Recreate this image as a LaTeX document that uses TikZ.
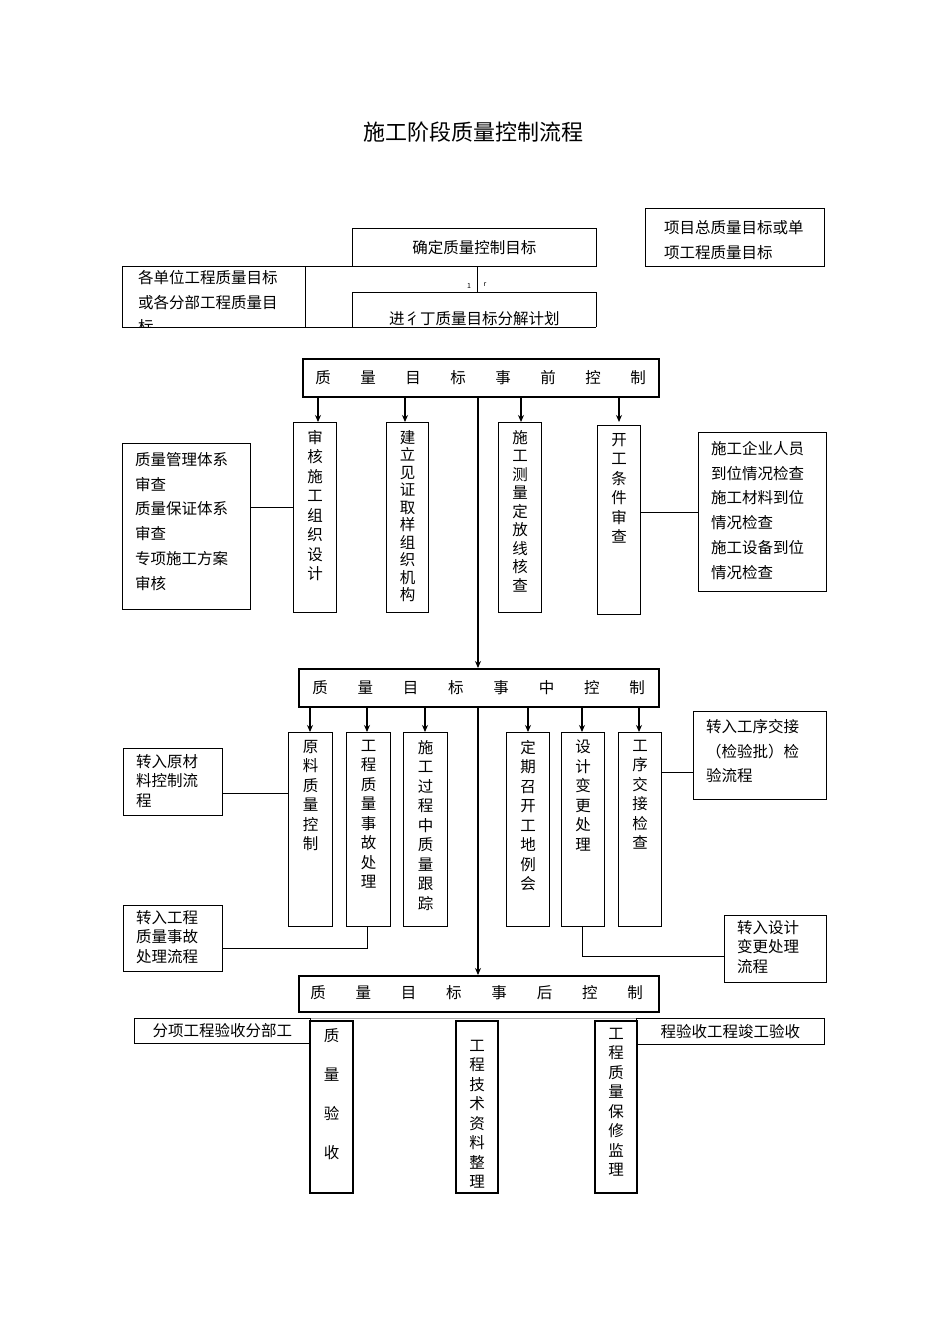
\documentclass[tikz,border=0pt]{standalone}
\usepackage{fontspec}
\usetikzlibrary{arrows.meta}
\setmainfont{Noto Sans CJK SC}
\begin{document}
\begin{tikzpicture}[x=1pt,y=-1pt,
  box/.style={draw,line width=1.1pt,anchor=north west,inner sep=0pt},
  thk/.style={draw,line width=2.2pt,anchor=north west,inner sep=0pt},
  thin/.style={draw,line width=0.6pt,anchor=north west,inner sep=0pt},
  txt/.style={font=\fontsize{15.5}{24.8}\selectfont,align=left,inner sep=0pt},
  vt/.style={font=\fontsize{15.5}{19.5}\selectfont,align=center,inner sep=0pt,anchor=north},
  ln/.style={line width=0.9pt},
  arr/.style={line width=1.1pt,-{Stealth[length=7pt,width=6pt]}}]
\useasboundingbox (0,0) rectangle (950,1344);
\newcommand\bx[6]{\node[#6,minimum width=#4pt,minimum height=#5pt] (#1) at (#2,#3) {};}
% title
\node[font=\fontsize{22}{26}\selectfont] (title) at (473,132) {施工阶段质量控制流程};
% top
\bx{tA}{352}{228}{244}{38}{thin}
\node[txt] at (tA.center) {确定质量控制目标};
\bx{tB}{122}{266}{183}{61}{thin}
\node[txt,anchor=north west] at (138,270) {各单位工程质量目标\\或各分部工程质量目\\标};
\fill[white] (121,327.4) rectangle (306,345);
\bx{tC}{352}{292}{244}{35}{thin}
\node[txt] at ([yshift=-9]tC.center) {进彳丁质量目标分解计划};
\fill[white] (351,327.4) rectangle (597,345);
\draw[line width=0.6pt] (122,327) -- (596,327);
\draw[line width=0.6pt] (305,266) -- (352,266);
\draw[line width=0.6pt] (477,266) -- (477,292);
\node[font=\fontsize{7}{8}\selectfont] (s1) at (469,286) {1};
\node[font=\fontsize{7}{8}\selectfont] (s2) at (485,285) {r};
\bx{tD}{645}{208}{179}{58}{thin}
\node[txt,anchor=north west] at (664,220) {项目总质量目标或单\\项工程质量目标};
% stage 1
\bx{b1}{302}{358}{356}{38}{thk}
\foreach \c [count=\i from 0] in {质,量,目,标,事,前,控,制}
  \node[font=\fontsize{15.5}{18}\selectfont] at (323+45*\i,378) {\c};
\bx{v1}{293}{422}{43}{190}{box}
\node[vt] at ([yshift=-8]v1.north) {审\\核\\施\\工\\组\\织\\设\\计};
\bx{v2}{386}{422}{42}{190}{box}
\node[vt] at ([yshift=-8]v2.north) {建\\[-2pt]立\\[-2pt]见\\[-2pt]证\\[-2pt]取\\[-2pt]样\\[-2pt]组\\[-2pt]织\\[-2pt]机\\[-2pt]构};
\bx{v3}{498}{422}{43}{190}{box}
\node[vt] at ([yshift=-8]v3.north) {施\\[-1pt]工\\[-1pt]测\\[-1pt]量\\[-1pt]定\\[-1pt]放\\[-1pt]线\\[-1pt]核\\[-1pt]查};
\bx{v4}{597}{425}{43}{189}{box}
\node[vt] at ([yshift=-8]v4.north) {开\\工\\条\\件\\审\\查};
\foreach \n/\x in {v1/318,v2/405,v3/521,v4/619}
  \draw[arr] (\x,396) -- (\x,422);
\bx{L1}{122}{443}{128}{166}{box}
\node[txt,anchor=north west] at (135,452) {质量管理体系\\审查\\质量保证体系\\审查\\专项施工方案\\审核};
\draw[ln] (L1.east|-0,507) -- (v1.west|-0,507);
\bx{R1}{698}{432}{128}{159}{box}
\node[txt,anchor=north west] at (711,441) {施工企业人员\\到位情况检查\\施工材料到位\\情况检查\\施工设备到位\\情况检查};
\draw[ln] (v4.east|-0,512) -- (R1.west|-0,512);
% stage 2
\bx{b2}{298}{668}{360}{38}{thk}
\draw[arr] (478,396) -- (b2.north-|478,0);
\foreach \c [count=\i from 0] in {质,量,目,标,事,中,控,制}
  \node[font=\fontsize{15.5}{18}\selectfont] at (320+45.3*\i,688) {\c};
\bx{w1}{288}{732}{44}{194}{box}
\node[vt] at ([yshift=-8]w1.north) {原\\料\\质\\量\\控\\制};
\bx{w2}{346}{732}{44}{194}{box}
\node[vt] at ([yshift=-8]w2.north) {工\\程\\质\\量\\事\\故\\处\\理};
\bx{w3}{403}{732}{44}{194}{box}
\node[vt] at ([yshift=-8]w3.north) {施\\工\\过\\程\\中\\质\\量\\跟\\踪};
\bx{w4}{506}{732}{43}{194}{box}
\node[vt] at ([yshift=-8]w4.north) {定\\期\\召\\开\\工\\地\\例\\会};
\bx{w5}{561}{732}{43}{194}{box}
\node[vt] at ([yshift=-8]w5.north) {设\\计\\变\\更\\处\\理};
\bx{w6}{618}{732}{43}{194}{box}
\node[vt] at ([yshift=-8]w6.north) {工\\序\\交\\接\\检\\查};
\foreach \x in {310,367,425,528,582,639}
  \draw[arr] (\x,706) -- (\x,732);
\bx{L2}{123}{748}{99}{67}{box}
\node[txt,anchor=north west,font=\fontsize{15.5}{19.5}\selectfont] at (136,754) {转入原材\\料控制流\\程};
\draw[ln] (L2.east|-0,793) -- (w1.west|-0,793);
\bx{R2}{693}{711}{133}{88}{box}
\node[txt,anchor=north west] at (706,719) {转入工序交接\\（检验批）检\\验流程};
\draw[ln] (w6.east|-0,772) -- (R2.west|-0,772);
\bx{L3}{123}{905}{99}{66}{box}
\node[txt,anchor=north west,font=\fontsize{15.5}{19.5}\selectfont] at (136,910) {转入工程\\质量事故\\处理流程};
\draw[ln] (w2.south-|367,0) -- (367,948) -- (L3.east|-0,948);
\bx{R3}{724}{915}{102}{67}{box}
\node[txt,anchor=north west,font=\fontsize{15.5}{19.5}\selectfont] at (737,920) {转入设计\\变更处理\\流程};
\draw[ln] (w5.south-|582,0) -- (582,956) -- (R3.west|-0,956);
% stage 3
\bx{b3}{298}{975}{360}{36}{thk}
\draw[arr] (478,706) -- (b3.north-|478,0);
\foreach \c [count=\i from 0] in {质,量,目,标,事,后,控,制}
  \node[font=\fontsize{15.5}{18}\selectfont] at (318+45.3*\i,993) {\c};
\draw[line width=0.5pt,gray!70] (134,1018) -- (824,1018);
\bx{L4}{134}{1018}{176}{25}{thin}
\node[txt] at (L4.center) {分项工程验收分部工};
\bx{R4}{636}{1018}{188}{26}{thin}
\node[txt] at (R4.center) {程验收工程竣工验收};
\bx{x1}{309}{1020}{43}{172}{thk}
\node[vt,font=\fontsize{15.5}{39}\selectfont] at ([yshift=-8]x1.north) {质\\量\\验\\收};
\bx{x2}{455}{1020}{42}{172}{thk}
\node[vt] at ([yshift=-20]x2.north) {工\\程\\技\\术\\资\\料\\整\\理};
\bx{x3}{594}{1020}{42}{172}{thk}
\node[vt] at ([yshift=-8]x3.north) {工\\程\\质\\量\\保\\修\\监\\理};
\end{tikzpicture}
\end{document}
